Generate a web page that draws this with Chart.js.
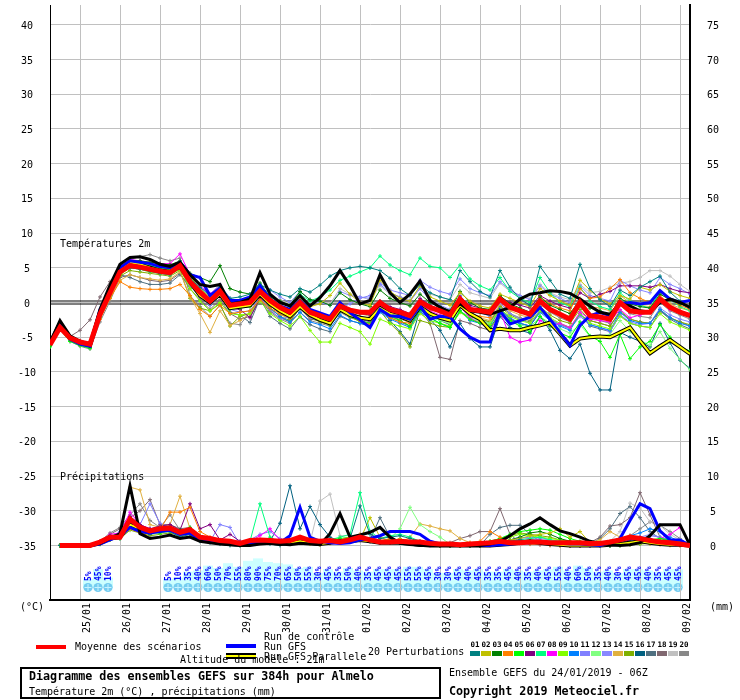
<!DOCTYPE html>
<html>
<head>
<meta charset="utf-8">
<script src="https://cdn.jsdelivr.net/npm/chart.js@4.4.0/dist/chart.umd.min.js"></script>
<style>
body { margin: 0; background: #fff; }
canvas { display: block; }
</style>
</head>
<body>
<canvas id="gefs" width="740" height="700"></canvas>
<script>
// axes
const dayLabels = ['25/01','26/01','27/01','28/01','29/01','30/01','31/01','01/02','02/02','03/02','04/02','05/02','06/02','07/02','08/02','09/02'];
const dayHours = [18,42,66,90,114,138,162,186,210,234,258,282,306,330,354,378];
const tempTicks = [-35,-30,-25,-20,-15,-10,-5,0,5,10,15,20,25,30,35,40];
const mmTicks = [0,5,10,15,20,25,30,35,40,45,50,55,60,65,70,75];

// probabilite de precipitations (fin de la periode de 6h)
const probHours = [24,30,36,
  72,78,84,90,96,102,108,114,120,126,132,138,144,150,156,162,168,174,180,186,192,198,
  204,210,216,222,228,234,240,246,252,258,264,270,276,282,288,294,300,306,312,318,324,330,336,342,348,354,360,366,372,378];
const probPct = [5,45,10,
  5,10,35,40,60,50,70,55,80,90,75,70,65,50,55,30,45,35,50,40,35,45,
  45,45,55,55,45,30,30,45,40,45,35,35,45,40,35,40,45,55,40,60,50,35,40,30,45,45,40,35,45,45];

// temperatures 2m, pas de 6h
const tMean = [-6.1,-3.6,-5.1,-5.7,-6.0,-1.7,1.4,4.4,5.3,5.1,
  4.8,4.5,4.3,5.3,3.0,1.5,0.2,1.6,-0.4,-0.2,
  0.0,1.6,0.3,-0.7,-1.4,0.0,-1.4,-1.9,-2.4,-0.5,
  -1.1,-1.4,-1.4,0.0,-1.0,-1.4,-1.9,0.1,-0.7,-1.2,
  -1.8,0.5,-1.0,-1.2,-1.4,0.5,-0.7,-1.2,-1.7,0.2,
  -1.0,-1.7,-2.4,0.0,-1.9,-2.1,-2.4,0.0,-1.2,-1.4,
  -1.4,0.5,-0.7,-1.4,-1.9];
const tGfs = [-5.8,-2.6,-4.8,-5.6,-6.0,-1.0,2.5,5.5,6.5,6.6,
  6.2,5.5,5.2,5.8,4.0,2.6,2.3,2.6,-0.2,0.0,
  0.5,4.3,1.2,0.0,-0.5,1.0,-0.5,0.7,2.4,4.6,
  2.4,-0.2,0.3,4.0,1.4,0.0,1.2,3.1,0.3,-0.7,
  -1.4,-0.2,-1.2,-1.4,-1.7,-1.2,-0.7,0.5,1.2,1.4,
  1.7,1.6,1.3,0.5,-0.5,-1.4,-1.7,-0.2,-0.5,-1.2,
  -1.4,0.0,0.5,0.0,-0.7];
const tCtrl = [-6.0,-3.2,-5.3,-6.0,-6.3,-1.0,2.0,5.0,6.0,5.8,
  5.6,5.2,5.0,5.8,4.0,3.6,1.0,2.0,0.3,0.3,
  0.8,2.4,0.5,-0.5,-1.0,0.3,-1.0,-1.5,-2.0,0.0,
  -1.5,-2.5,-3.6,-1.0,-1.9,-2.0,-2.4,-0.5,-2.4,-2.0,
  -2.1,-3.8,-5.0,-5.7,-5.7,-1.2,-3.1,-2.6,-2.1,-0.7,
  -2.4,-4.3,-6.2,-3.3,-1.9,-1.4,-1.9,-0.2,0.0,-0.2,
  0.0,1.7,0.5,0.0,0.3];
const tPar = [-5.9,-3.0,-5.0,-5.8,-6.2,-1.5,1.8,4.8,5.8,5.5,
  5.0,4.6,4.4,5.2,3.0,1.0,0.0,1.2,-0.8,-0.6,
  -0.4,1.2,-0.2,-1.2,-2.0,-0.6,-1.8,-2.5,-3.0,-1.0,
  -1.8,-2.2,-2.4,-0.8,-1.6,-2.0,-2.6,-0.6,-1.6,-2.2,
  -2.6,-0.4,-1.6,-2.4,-4.0,-3.8,-4.0,-4.0,-3.6,-3.3,
  -2.9,-4.5,-6.2,-5.2,-5.0,-4.9,-5.0,-4.3,-3.6,-5.5,
  -7.3,-6.3,-5.4,-6.4,-7.4];

const t01 = [-5.8,-3.4,-5.0,-5.6,-6.2,-1.8,1.2,4.2,5.0,4.8,4.5,4.2,4.0,5.0,3.4,2.2,1.0,2.4,0.6,0.8,1.2,2.6,1.8,1.2,0.8,2.0,1.5,2.5,3.8,4.6,5.0,5.2,5.0,4.6,3.5,2.0,1.0,2.6,1.4,0.8,0.4,4.6,3.0,1.6,0.8,4.6,2.2,0.5,-0.4,5.2,3.2,1.2,0.6,5.5,2.0,0.4,-0.6,1.8,1.0,2.2,3.0,3.8,1.5,0.2,-0.8];
const t02 = [-6.0,-3.8,-5.2,-5.9,-6.1,-2.0,1.0,4.2,5.4,5.3,5.0,4.8,4.6,5.5,3.8,2.0,0.8,2.0,0.2,0.0,0.4,2.0,0.4,-0.4,-1.0,0.6,-0.6,-0.2,1.0,2.8,1.2,0.0,-0.4,3.2,1.6,0.6,0.2,2.4,0.8,0.2,-0.4,1.4,0.2,-0.5,-0.8,1.2,0.6,0.0,-0.6,2.0,1.0,0.2,-0.4,3.2,1.8,0.5,-0.2,1.0,0.5,2.2,1.8,2.6,1.6,1.0,0.6];
const t03 = [-6.2,-3.3,-5.3,-6.0,-6.3,-1.2,2.0,5.0,6.0,6.0,5.8,5.6,5.4,6.0,4.2,3.6,3.0,5.3,2.0,1.5,1.2,2.8,0.8,0.2,-0.4,1.6,0.4,0.2,-0.4,1.4,0.4,-0.2,-0.6,1.8,0.6,0.0,-0.5,1.2,0.0,-0.6,-1.2,1.6,0.0,-0.8,-1.0,1.0,-0.2,-0.8,-1.4,0.8,-0.4,-1.0,-1.6,0.4,-0.8,-1.2,-1.8,0.6,-0.2,-0.6,-0.8,1.2,0.4,-0.2,-0.6];
const t04 = [-6.0,-3.8,-5.0,-5.5,-5.8,-2.4,0.6,3.0,2.2,2.0,1.9,1.9,2.0,2.6,1.0,-1.0,-2.0,-0.4,-1.6,-1.4,-1.2,0.4,-0.8,-1.6,-2.2,-0.6,-2.0,-2.4,-2.8,-0.6,-1.8,-2.6,-3.2,-1.0,-2.2,-2.8,-3.0,-0.6,-1.4,-2.0,-2.4,-0.2,-1.6,-2.0,-2.2,0.6,-0.6,-1.4,-1.8,0.8,-0.2,-0.8,-1.2,2.0,0.6,0.8,2.0,3.3,1.4,0.6,0.0,1.6,0.4,-0.4,-1.0];
const t05 = [-6.4,-3.9,-5.6,-6.2,-6.6,-2.2,1.0,4.6,5.6,5.6,5.2,5.0,4.8,5.2,2.8,1.2,0.0,1.4,-1.0,-0.8,-0.6,1.0,-0.4,-1.2,-2.0,-0.4,-1.8,-2.4,-3.2,-1.2,-2.0,-2.6,-3.0,-0.8,-2.0,-2.6,-3.4,-1.0,-2.2,-3.0,-3.6,-1.2,-2.4,-3.0,-3.6,-1.6,-2.6,-3.4,-4.2,-2.0,-3.4,-4.4,-5.0,-2.8,-4.8,-5.6,-7.9,-4.6,-8.1,-6.4,-5.6,-3.2,-5.0,-6.4,-7.0];
const t06 = [-6.1,-3.5,-5.2,-5.8,-6.1,-1.6,1.6,4.6,5.5,5.4,5.1,4.8,4.6,5.6,3.2,1.4,0.0,1.2,-0.8,-1.0,-2.2,0.6,-0.2,-1.2,-2.0,-0.2,-1.6,-2.0,-2.6,-0.8,-1.2,-1.6,-1.8,0.2,-0.6,-1.0,-1.6,0.6,-0.4,-1.0,-1.6,0.8,-0.4,-0.8,-1.2,0.8,0.0,-0.4,-0.8,1.0,0.2,-0.4,-0.8,1.4,0.6,1.2,1.6,2.4,2.4,2.4,2.2,2.6,2.0,1.6,1.4];
const t07 = [-6.3,-3.6,-5.4,-6.0,-6.2,-1.4,1.8,4.8,5.8,5.6,5.3,5.0,4.8,5.8,3.6,2.0,0.8,2.2,0.0,0.2,0.4,2.2,0.8,0.0,-0.6,1.2,0.2,0.8,1.8,3.2,3.8,4.4,5.0,6.7,5.4,4.6,4.0,6.4,5.2,5.0,3.6,5.4,3.4,2.4,1.8,3.6,1.6,0.6,0.0,3.6,1.4,0.0,-0.6,2.2,0.2,-0.6,-1.0,1.4,0.2,-0.4,-0.8,1.6,0.4,-0.6,-1.2];
const t08 = [-6.0,-3.4,-5.0,-5.6,-5.9,-1.4,2.2,5.2,6.2,6.0,5.8,5.6,5.6,7.0,4.0,2.4,1.2,2.4,0.0,0.2,0.4,2.0,0.0,-1.0,-1.8,0.4,-1.2,-1.8,-2.4,-0.6,-1.6,-2.2,-2.6,-0.4,-1.6,-2.0,-2.4,-0.2,-1.2,-1.8,-2.4,-0.6,-2.2,-3.0,-3.8,-1.2,-5.0,-5.7,-5.4,-2.6,-3.4,-3.0,-3.6,-1.4,-2.4,-2.6,-2.8,-1.0,-2.2,-1.8,-1.4,0.4,-1.0,-1.2,-1.6];
const t09 = [-6.2,-3.8,-5.4,-6.1,-6.4,-2.2,0.8,4.0,5.0,4.8,4.4,4.2,4.0,4.8,2.0,0.2,-1.2,0.0,-1.6,-1.8,-1.6,0.2,-1.6,-2.6,-3.4,-2.0,-4.0,-5.7,-5.7,-3.0,-3.6,-4.2,-6.0,-2.4,-3.0,-3.4,-3.8,-1.6,-2.6,-3.0,-3.4,-1.4,-2.4,-2.8,-3.2,-1.0,-2.0,-2.6,-3.0,-1.2,-2.2,-3.0,-3.6,-1.6,-3.0,-3.4,-3.8,-2.0,-3.0,-3.4,-3.6,-1.6,-2.8,-3.4,-4.0];
const t10 = [-6.0,-3.5,-5.1,-5.7,-6.0,-1.6,1.6,4.6,5.5,5.3,5.0,4.7,4.5,5.5,3.4,1.8,0.5,1.8,-0.2,0.0,0.2,1.8,-0.8,-2.0,-2.8,-1.4,-2.8,-3.2,-3.8,-1.8,-2.6,-3.0,-3.4,-1.4,-2.4,-3.0,-3.6,-1.4,-2.2,-3.0,-3.6,-1.2,-2.6,-3.0,-3.4,-1.0,-2.2,-3.0,-3.4,-1.4,-2.6,-3.4,-4.0,-1.6,-3.2,-3.6,-4.0,-1.4,-2.6,-3.0,-3.0,-1.0,-2.2,-3.0,-3.4];
const t11 = [-6.2,-3.7,-5.3,-5.9,-6.2,-2.0,1.2,4.2,5.0,4.8,4.4,4.2,4.0,5.0,2.6,1.0,-0.4,1.0,-1.0,-1.4,-1.2,0.8,-1.0,-2.4,-2.0,-0.8,-2.2,-2.6,-3.0,-0.8,-0.2,0.6,1.0,2.6,1.4,0.8,0.2,2.0,0.4,-0.4,-1.0,1.0,-0.6,-1.4,-2.0,0.0,-1.6,-2.4,-3.0,-1.0,-2.4,-3.2,-3.8,-2.0,-3.2,-3.6,-4.2,-1.8,-2.8,-3.2,-3.0,-0.8,-1.8,-2.4,-2.8];
const t12 = [-6.3,-3.8,-5.5,-6.1,-6.5,-2.0,1.2,4.4,5.4,5.2,4.9,4.6,4.4,5.2,2.8,1.2,-0.2,1.2,-0.8,-0.6,-0.4,1.2,-0.2,-1.2,-1.8,-0.2,-1.6,-2.2,-2.8,-1.0,-1.6,-2.0,-2.4,-0.4,-1.6,-2.2,-2.8,-0.8,-2.0,-2.6,-3.0,-1.2,-2.2,-2.6,-3.0,-1.0,-2.6,-3.2,-3.6,-2.0,-3.0,-3.8,-4.4,-3.2,-4.9,-4.8,-4.6,-2.6,-4.2,-5.4,-6.2,-4.2,-6.6,-8.2,-9.7];
const t13 = [-5.9,-3.4,-5.0,-5.5,-5.8,-1.4,1.8,4.8,5.6,5.4,5.1,4.8,4.6,5.4,3.6,2.2,1.2,2.6,0.6,0.2,0.0,1.4,1.8,0.8,0.0,1.6,0.4,0.0,-0.4,1.6,1.0,0.8,0.6,2.8,1.8,1.4,1.0,3.2,2.2,1.6,1.2,3.4,2.0,1.4,1.0,3.0,1.8,1.0,0.4,2.4,1.2,0.6,0.0,2.4,1.0,0.6,0.2,3.2,2.4,1.8,1.4,3.6,2.6,2.0,1.2];
const t14 = [-6.1,-3.7,-5.2,-5.8,-6.0,-2.4,0.6,3.2,4.0,3.6,3.4,3.2,3.4,4.4,0.8,-1.6,-4.3,-1.2,-3.3,-2.6,-1.6,0.4,-1.0,-1.8,-2.2,-0.6,-1.8,-2.2,-2.6,-0.4,-1.2,-1.6,-2.0,0.2,-1.4,-2.2,-3.0,-0.6,-1.8,-2.4,-2.8,-0.4,-1.6,-2.2,-2.6,-0.2,-1.2,-1.8,-2.2,0.4,-1.0,-1.6,-2.0,0.6,-0.6,-0.8,-1.2,1.0,0.0,-0.4,-0.6,1.0,-0.2,-0.8,-1.2];
const t15 = [-6.0,-3.5,-5.2,-5.7,-6.0,-1.8,1.0,3.8,4.6,4.4,4.2,4.0,3.8,4.6,0.6,-0.8,-1.2,-0.2,-3.4,-2.0,-1.6,0.8,-0.8,-2.0,-2.6,-0.8,-2.2,-2.8,-3.2,-1.0,-2.0,-2.8,-3.4,-1.2,-3.0,-4.4,-6.4,-2.6,-3.0,-3.4,-3.6,-1.4,-2.0,-2.4,-2.8,-0.6,-1.8,-2.4,-2.8,-0.6,-1.8,-2.6,-3.0,-1.0,-2.6,-3.0,-3.4,-1.2,-2.4,-2.8,-3.0,-1.0,-2.2,-2.8,-3.2];
const t16 = [-6.2,-3.6,-5.3,-5.9,-6.2,-1.9,1.2,4.2,5.2,5.0,4.6,4.4,4.2,5.0,2.8,1.4,0.2,1.4,-0.6,-0.4,-0.2,1.4,-0.4,-1.6,-2.4,-0.4,-1.8,-2.0,-2.4,-0.4,-1.4,-2.0,-2.6,-0.6,-2.6,-4.2,-6.0,-1.0,-2.4,-4.0,-6.4,-3.0,-5.2,-6.4,-6.4,-2.0,-3.6,-4.0,-4.4,-2.0,-4.0,-6.9,-8.1,-6.0,-10.2,-12.6,-12.6,-4.3,-5.0,-5.6,-6.4,-3.0,-5.8,-8.3,-9.5];
const t17 = [-6.1,-3.5,-5.1,-5.8,-6.1,-1.7,1.4,4.0,3.6,3.0,2.6,2.6,2.8,4.0,2.4,0.8,-0.4,1.0,-1.4,-1.8,-2.9,0.6,-2.0,-3.0,-3.8,-2.0,-3.2,-3.8,-4.2,-2.0,-2.6,-3.0,-3.4,-1.2,-2.2,-2.8,-3.4,-1.0,-2.0,-2.6,-3.2,-0.6,-2.0,-2.6,-3.0,-0.8,-2.4,-3.0,-3.4,-1.2,-2.4,-3.2,-3.8,-1.6,-3.4,-3.8,-4.2,-1.8,-3.0,-3.4,-3.6,-1.2,-2.4,-3.2,-3.8];
const t18 = [-6.0,-3.4,-4.9,-4.0,-2.5,0.8,3.0,3.6,4.0,3.6,3.2,3.0,3.2,4.2,2.0,0.4,-1.0,0.4,-1.6,-2.4,-2.0,0.4,-1.2,-2.2,-2.8,-0.8,-2.4,-2.6,-3.0,-1.0,-1.8,-2.4,-2.8,-0.6,-1.8,-2.6,-3.4,-1.2,-3.0,-7.9,-8.2,-2.6,-3.0,-3.6,-4.0,-1.4,-2.4,-3.0,-3.4,-1.2,-2.4,-3.2,-3.6,-1.8,-2.6,-3.0,-3.4,-1.4,-2.4,-2.8,-3.0,-1.2,-2.2,-2.8,-3.4];
const t19 = [-6.1,-3.6,-5.2,-5.8,-6.0,-1.6,1.6,4.6,5.5,5.3,5.0,4.7,4.5,5.4,3.2,1.6,0.4,1.6,-0.2,0.0,0.0,1.4,1.0,0.4,-0.2,1.6,0.4,0.2,-0.2,2.0,1.2,0.8,0.4,2.4,1.2,0.8,0.4,2.2,1.2,0.8,0.4,2.6,1.4,1.0,0.6,2.8,1.6,1.0,0.6,2.6,1.4,0.8,0.4,2.6,1.4,1.6,2.2,2.8,3.0,3.6,4.6,4.6,3.8,2.6,1.6];
const t20 = [-6.3,-3.9,-5.6,-6.3,-6.7,-2.8,0.2,3.6,6.2,6.6,6.9,6.4,6.0,6.4,1.0,-0.6,-2.0,-0.4,-3.0,-3.2,-1.4,0.6,-1.4,-2.4,-3.0,-1.4,-2.6,-3.0,-3.4,-1.4,-2.2,-2.6,-3.0,-1.2,-2.0,-2.4,-2.8,-0.8,-1.8,-2.4,-2.8,-0.6,-1.8,-2.4,-2.8,-0.4,-1.6,-2.2,-2.6,-0.2,-1.4,-2.2,-2.8,-0.6,-2.2,-2.6,-3.0,-0.4,-1.6,-2.0,-2.2,0.0,-1.2,-1.8,-2.4];

// precipitations (mm / 6h)
const rMean = [null,0,0,0,0,0.5,1.2,1.2,3.8,2.6,2.1,2.4,2.5,1.9,2.3,1.2,1.0,0.7,0.6,0.3,0.7,0.8,0.7,0.6,0.7,1.2,0.7,0.6,0.7,0.5,0.8,1.2,0.8,0.5,0.5,0.6,0.5,0.5,0.3,0.2,0.2,0.1,0.2,0.3,0.4,0.6,0.4,0.4,0.5,0.5,0.4,0.4,0.4,0.4,0.3,0.3,0.5,0.8,1.2,1.0,0.7,0.5,0.4,0.2,0.0];
const rGfs = [null,0,0,0,0,0.3,1.0,1.7,8.6,1.7,1.0,1.2,1.5,1.0,1.2,0.6,0.4,0.2,0.1,0,0,0.2,0.3,0.2,0.1,0.3,0.2,0.1,1.7,4.6,1.2,1.5,1.9,2.6,1.2,0.3,0.2,0,0,0,0,0,0,0,0.2,0.6,1.4,2.4,3.1,4.0,3.0,2.1,1.7,1.2,0.6,0.3,0.1,0,0.1,0.4,1.4,3.0,3.0,3.0,0];
const rCtrl = [null,0,0,0,0,0.2,0.8,1.4,2.6,2.0,1.8,2.0,2.2,1.6,1.8,0.8,0.6,0.4,0.2,0.1,0.2,0.4,0.6,0.4,1.4,5.5,1.2,0.6,0.4,0.3,0.4,0.8,1.0,1.4,2.0,2.0,2.0,1.6,0.6,0.2,0.1,0,0,0,0,0.1,0.2,0.3,0.4,0.6,0.4,0.3,0.2,0.2,0.1,0,0.3,1.0,3.6,6.0,5.3,2.1,0.8,0.8,0];
const rPar = [null,0,0,0,0,0.3,1.0,1.2,3.0,2.4,2.0,2.2,2.4,1.8,2.0,1.0,0.6,0.4,0.2,0.1,0.2,0.4,0.4,0.2,0.4,0.6,0.4,0.2,0.4,0.6,0.6,0.8,0.6,0.4,0.4,0.4,0.2,0.1,0,0,0,0,0,0,0,0.1,0.2,0.4,0.6,0.4,0.2,0.1,0,0,0,0,0.1,0.2,0.4,0.6,0.4,0.2,0.1,0.1,0];

const r01 = [null,0,0,0,0,0.3,1.2,1.0,2.8,2.0,1.6,2.4,2.0,1.2,1.6,0.6,0.4,0.2,0,0,0.4,0.6,0.2,0,0.2,0.6,0.4,0.2,0.6,0.8,1.0,5.7,1.6,1.0,1.2,1.4,1.0,0.6,0.4,0.2,0.2,0,0,0.1,0.2,0.4,0.6,0.8,0.4,0.3,0.2,0.1,0.2,0.3,0.2,0.1,0,0,0.4,0.8,0.6,0.4,0.2,0.1,0];
const r02 = [null,0,0,0,0,0.2,1.0,1.4,3.2,2.2,2.0,2.6,2.4,1.6,2.0,1.0,0.6,0.4,0.2,0.1,0.4,0.8,0.4,0.2,0.3,0.6,0.2,0.1,0.3,0.4,0.6,0.8,4.0,1.2,0.6,1.0,0.4,0.2,0.2,0.1,0,0,0,0,0.2,0.4,0.8,1.0,1.4,1.6,1.8,2.4,1.2,2.0,0.4,0.2,0,0.1,0.2,0.3,0.4,0.3,0.2,0.2,0];
const r03 = [null,0,0,0,0,0.4,1.4,1.6,3.4,2.8,2.2,2.0,2.6,2.2,2.4,1.2,0.8,0.4,0.2,0,0.2,0.4,0.6,0.4,0.6,1.0,0.6,0.4,0.6,0.4,0.8,1.0,0.6,0.4,0.4,0.6,0.4,0.2,0.1,0,0,0,0,0,0.2,0.4,0.8,1.2,1.8,2.0,1.6,1.0,0.6,0.4,0.2,0.1,0,0.2,0.4,0.8,0.6,0.4,0.3,0.2,0];
const r04 = [null,0,0,0,0,0.3,0.8,1.2,2.4,1.8,1.6,2.2,4.8,4.8,5.5,2.0,1.2,0.6,0.4,0.2,0.4,0.6,0.8,0.4,0.6,1.0,0.8,0.4,0.6,0.8,1.2,1.6,0.8,0.6,1.0,0.6,0.4,0.2,0.2,0,0,0,0.4,0.6,2.0,1.2,0.6,0.4,0.2,0.2,0.1,0,0,0,0.2,0.3,0.6,1.0,1.4,0.8,0.4,0.3,0.2,0.1,0];
const r05 = [null,0,0,0,0,0.2,1.0,1.2,2.6,2.4,2.0,1.8,2.2,1.8,2.6,1.4,0.8,0.6,0.4,0.2,0.2,0.6,1.0,0.6,0.8,1.2,0.6,0.4,0.8,1.0,1.2,1.4,1.0,0.6,0.8,0.6,0.4,0.2,0.1,0,0,0,0,0.2,0.6,1.0,1.6,2.0,2.2,2.4,2.2,1.6,1.0,0.6,0.4,0.2,0.1,0.2,0.4,0.6,0.8,1.0,0.8,0.6,0.2];
const r06 = [null,0,0,0,0,0.4,1.2,1.6,4.2,3.0,2.4,2.8,3.0,2.2,6.0,2.4,3.0,0.8,1.6,0.6,0.4,0.6,0.4,0.2,0.4,0.8,0.4,0.2,0.4,0.6,0.6,0.8,0.6,0.4,0.4,0.6,0.4,0.2,0.1,0,0,0,0,0,0.2,0.4,0.6,0.8,0.6,0.4,0.2,0.1,0,0,0,0.1,0.2,0.4,0.8,1.2,1.0,0.6,0.4,0.2,0];
const r07 = [null,0,0,0,0,0.2,0.8,1.4,2.8,2.2,1.8,2.0,2.2,1.6,2.0,1.0,0.6,0.4,0.2,0.2,0.6,6.0,1.2,0.4,0.6,1.0,0.6,0.4,0.8,1.2,1.6,7.6,2.0,1.0,1.4,1.6,1.2,0.6,0.4,0.2,0.1,0,0,0,0.2,0.4,0.6,0.8,1.0,1.2,0.8,0.6,0.4,0.2,0.1,0,0,0.1,0.2,0.3,0.4,0.3,0.2,0.1,0];
const r08 = [null,0,0,0,0,0.5,1.6,1.8,4.8,3.0,2.4,2.6,2.4,2.0,2.2,1.0,0.6,0.4,0.2,0.1,0.6,1.4,2.4,0.8,0.4,0.6,0.4,0.2,0.4,0.6,0.8,1.0,0.6,0.4,0.6,0.4,0.2,0.1,0,0,0,0,0,0,0.1,0.2,0.4,0.6,0.4,0.2,0.2,0.1,0,0,0,0,0,0.1,0.2,0.4,0.6,1.0,1.6,2.6,0.2];
const r09 = [null,0,0,0,0,0.2,0.8,1.2,2.6,2.2,1.8,2.0,2.2,1.8,2.0,1.0,0.8,0.6,0.4,0.2,0.2,0.4,0.6,0.4,0.4,0.8,0.6,0.4,0.6,0.8,1.0,1.2,0.8,0.6,0.6,0.4,0.3,0.2,0.1,0,0,0,0,0.1,0.4,0.8,1.2,1.6,1.4,1.2,1.0,0.8,0.6,0.4,0.2,0.1,0,0,0.2,0.4,0.6,0.8,0.6,0.4,0];
const r10 = [null,0,0,0,0,0.3,1.0,1.4,3.0,2.4,2.0,2.2,2.4,1.8,2.0,1.0,0.6,0.4,0.2,0.1,0.4,0.6,0.4,0.2,0.4,0.8,0.6,0.4,0.6,0.8,1.0,1.2,0.8,0.6,0.6,0.4,0.3,0.2,0.1,0,0,0,0,0,0.1,0.2,0.4,0.6,0.4,0.3,0.2,0.1,0,0,0.1,0.2,0.4,0.8,1.4,1.8,2.4,2.0,1.2,0.6,0];
const r11 = [null,0,0,0,0,0.4,1.2,2.0,3.4,3.0,6.0,3.2,2.6,2.0,2.2,1.0,0.6,3.0,2.6,0.1,0.8,1.6,2.0,1.0,0.6,0.8,0.4,0.2,0.4,0.6,0.8,1.0,0.8,0.6,0.6,0.4,0.3,0.2,0.1,0,0,0,0,0,0.2,0.4,0.8,1.2,1.0,0.8,0.6,0.4,0.2,0.1,0,0,0,0.2,0.6,1.0,1.4,1.2,0.8,0.4,0];
const r12 = [null,0,0,0,0,0.2,0.8,1.0,2.4,2.0,1.6,1.8,2.0,1.6,1.8,0.8,0.6,0.4,0.2,0.1,0.2,0.4,0.6,0.4,0.4,0.6,0.4,0.2,0.4,0.6,0.8,1.0,0.8,0.6,1.0,2.4,5.5,3.0,2.0,1.2,0.2,0,0,0,0.1,0.2,0.4,0.6,0.4,0.3,0.2,0.1,0,0,0,0,0,0.1,0.2,0.3,0.4,0.3,0.2,0.1,0];
const r13 = [null,0,0,0,0,0.3,1.0,1.2,2.8,2.4,2.0,2.2,2.4,1.8,2.2,1.0,0.6,0.4,0.2,0.1,0.4,0.6,0.4,0.2,0.4,0.8,0.6,0.4,0.6,0.8,1.0,1.2,0.8,0.6,0.6,0.4,0.3,0.2,0.1,0,0,0,0,0,0.2,0.4,0.8,1.0,1.2,1.0,0.8,0.6,0.4,0.2,0.2,0.1,0.2,0.4,0.8,1.2,1.6,1.2,0.8,0.4,0];
const r14 = [null,0,0,0,0,0.3,1.0,1.6,8.4,8.0,3.0,2.6,3.0,7.1,2.4,1.2,0.8,0.6,0.4,0.2,0.4,0.6,0.4,0.2,0.4,0.6,0.4,0.2,0.4,0.6,0.8,1.0,0.8,0.6,0.6,0.4,1.2,3.1,2.8,2.4,2.1,1.0,0.4,0,0,0.2,0.4,0.6,0.4,0.2,0.1,0,0,0,0.4,0.8,2.0,1.2,0.6,0.4,0.2,0.1,0,0,0];
const r15 = [null,0,0,0,0,0.2,0.8,1.0,2.2,1.8,1.4,1.6,1.8,1.4,1.6,0.8,0.6,0.4,0.2,0.1,0.2,0.4,0.6,0.4,0.4,0.6,0.4,0.2,0.4,0.6,0.8,1.0,0.8,0.6,0.6,0.4,0.3,0.2,0.1,0,0,0,0,0.2,0.6,1.0,1.4,1.8,1.6,1.4,1.2,0.8,0.6,0.4,0.2,0.1,0,0,0.1,0.2,0.3,0.2,0.1,0,0];
const r16 = [null,0,0,0,0,0.3,1.0,1.4,3.0,2.6,2.0,2.2,2.4,1.8,2.0,1.0,0.6,0.4,0.2,0.1,0.2,0.4,0.6,3.2,8.6,2.4,5.6,3.0,1.2,0.6,0.8,1.0,0.8,0.6,0.6,0.4,0.3,0.2,0.1,0,0,0,0,0,0.1,0.2,0.4,0.6,0.4,0.3,0.2,0.1,0,0,0,0,0,0.1,0.2,0.3,0.4,0.3,0.2,0.1,0];
const r17 = [null,0,0,0,0,0.4,1.2,1.6,3.6,2.8,2.4,2.2,2.8,2.0,2.4,1.2,0.8,0.4,0.2,0.1,0.2,0.4,0.6,0.4,0.4,0.6,0.4,0.2,0.4,0.6,0.8,1.0,0.8,4.0,1.2,0.6,0.4,0.2,0.1,0,0,0,0,0,1.6,2.6,2.9,2.9,1.6,0.6,0.2,0.1,0,0,0.2,1.0,2.4,4.6,5.6,4.0,2.0,1.0,0.6,0.4,0];
const r18 = [null,0,0,0,0,0.5,1.6,2.4,4.0,5.0,6.6,3.0,3.0,2.4,2.6,1.2,0.8,0.4,0.2,0.1,0.2,0.4,0.6,0.4,0.4,0.6,0.4,0.2,0.4,0.6,0.8,1.0,0.8,0.6,0.6,0.4,0.3,0.2,0.1,0,0.4,1.0,1.4,2.0,2.0,5.3,1.6,0.4,0.2,0.1,0,0,0,0,0.4,1.2,2.8,3.0,4.0,7.6,4.4,1.2,0.6,0.4,0];
const r19 = [null,0,0,0,0,0.2,0.8,1.0,2.4,2.0,1.6,1.8,2.0,1.6,1.8,0.8,0.6,0.4,0.2,0.1,0.2,0.4,0.6,0.4,0.4,0.6,0.4,6.4,7.4,1.4,1.4,1.0,0.8,0.6,0.6,0.4,0.3,0.2,0.1,0,0,0,0,0,0.2,0.4,0.6,0.4,0.3,0.2,0.1,0,0,0,0,0.2,0.6,2.0,6.1,5.4,3.4,2.9,1.6,0.8,0];
const r20 = [null,0,0,0,0,0.6,1.8,2.6,4.4,6.0,3.6,2.6,4.4,2.2,2.4,1.2,0.8,0.4,0.2,0.1,0.2,0.4,0.6,0.4,0.4,0.6,0.4,0.2,0.4,0.6,0.8,1.0,0.8,0.6,0.6,0.4,0.3,0.2,0.1,0,0,0,0,0,0.2,0.4,0.6,0.8,0.6,0.4,0.2,0.1,0,0,0,0.1,0.2,0.6,1.4,2.4,3.4,2.9,2.0,1.0,0];

const memberColors = ['#008080','#c0c000','#008000','#ff8000','#00ff00','#800080','#00ff80','#ff00ff','#80ff00','#0080ff',
  '#8080ff','#80ff80','#8888ff','#e0b040','#80b000','#006080','#507080','#806870','#c0c0c0','#888888'];
const tMembers = [t01,t02,t03,t04,t05,t06,t07,t08,t09,t10,t11,t12,t13,t14,t15,t16,t17,t18,t19,t20];
const rMembers = [r01,r02,r03,r04,r05,r06,r07,r08,r09,r10,r11,r12,r13,r14,r15,r16,r17,r18,r19,r20];

const FONT = '"DejaVu Sans Mono", "Liberation Mono", monospace';

function serie(values, axis, color, width, order, marks) {
  return {
    data: values.map((v, i) => ({ x: i * 6, y: v })),
    yAxisID: axis,
    borderColor: color,
    backgroundColor: color,
    borderWidth: width,
    pointRadius: marks ? 2 : 0,
    pointStyle: 'cross',
    pointBorderColor: color,
    pointBorderWidth: 1,
    fill: false,
    spanGaps: false,
    order: order
  };
}

const datasets = [];
['y', 'y2'].forEach(axis => {
  const mem = axis === 'y' ? tMembers : rMembers;
  mem.forEach((m, k) => datasets.push(serie(m, axis, memberColors[k], 1, 10, true)));
  datasets.push(serie(axis === 'y' ? tPar : rPar, axis, '#000000', 4, 6, false));
  datasets.push(serie(axis === 'y' ? tPar : rPar, axis, '#ffff00', 2, 5, false));
  datasets.push(serie(axis === 'y' ? tCtrl : rCtrl, axis, '#0000ff', 3, 3, false));
  datasets.push(serie(axis === 'y' ? tGfs : rGfs, axis, '#000000', 3, 2, false));
  datasets.push(serie(axis === 'y' ? tMean : rMean, axis, '#ff0000', 5, 1, false));
});

// Bande des probabilites, textes, legende
const extras = {
  id: 'extras',
  beforeDraw(chart) {
    const { ctx, scales: { x } } = chart;
    ctx.save();
    ctx.fillStyle = '#ffffff';
    ctx.fillRect(0, 0, chart.width, chart.height);
    probHours.forEach((h, k) => {
      const px = x.getPixelForValue(h) - 2;
      const top = 580 - 0.24 * probPct[k];
      ctx.fillStyle = '#ccffff';
      ctx.fillRect(px - 5, top, 10, 588 - top);
    });
    probHours.forEach(h => {
      const px = x.getPixelForValue(h) - 2;
      ctx.beginPath();
      ctx.arc(px, 587.5, 4.6, 0, 2 * Math.PI);
      ctx.fillStyle = '#74ccf0';
      ctx.fill();
      ctx.fillStyle = '#c8f2ff';
      ctx.fillRect(px - 0.5, 584, 1, 7);
      ctx.fillRect(px - 3.5, 587, 7, 1);
    });
    ctx.restore();
  },
  beforeDatasetsDraw(chart) {
    const { ctx, chartArea, scales: { y } } = chart;
    const p0 = y.getPixelForValue(0);
    ctx.save();
    ctx.strokeStyle = '#000';
    ctx.lineWidth = 1;
    [p0 - 1.5, p0 + 1.5].forEach(py => {
      ctx.beginPath();
      ctx.moveTo(chartArea.left, py);
      ctx.lineTo(chartArea.right, py);
      ctx.stroke();
    });
    ctx.restore();
  },
  afterDraw(chart) {
    const { ctx, scales: { x, y, y2 } } = chart;
    ctx.save();
    // probabilites
    ctx.fillStyle = '#0000ff';
    ctx.font = 'bold 8px ' + FONT;
    ctx.textAlign = 'left';
    ctx.textBaseline = 'middle';
    probHours.forEach((h, k) => {
      const px = x.getPixelForValue(h) - 2;
      ctx.save();
      ctx.translate(px, 581);
      ctx.rotate(-Math.PI / 2);
      ctx.fillText(probPct[k] + '%', 0, 0.5);
      ctx.restore();
    });

    ctx.fillStyle = '#000';
    ctx.font = '10px ' + FONT;
    ctx.textAlign = 'center';
    tempTicks.forEach(v => ctx.fillText(String(v), 27, y.getPixelForValue(v) + 1.5));
    mmTicks.forEach(v => ctx.fillText(String(v), 713, y2.getPixelForValue(v) + 1.5));

    ctx.textAlign = 'right';
    dayHours.forEach((h, k) => {
      ctx.save();
      ctx.translate(x.getPixelForValue(h) + 7, 603);
      ctx.rotate(-Math.PI / 2);
      ctx.fillText(dayLabels[k], 0, 0);
      ctx.restore();
    });

    ctx.textAlign = 'left';
    ctx.fillText('Températures 2m', 60, 244);
    ctx.fillText('Précipitations', 60, 477);
    ctx.fillText('(°C)', 20, 607);
    ctx.fillText('(mm)', 710, 607);

    // legende
    ctx.fillStyle = '#ff0000';
    ctx.fillRect(36, 645, 30, 4);
    ctx.fillStyle = '#0000ff';
    ctx.fillRect(226, 644, 30, 4);
    ctx.fillStyle = '#000000';
    ctx.fillRect(226, 653, 30, 6);
    ctx.fillStyle = '#ffff00';
    ctx.fillRect(226, 655, 30, 2);
    ctx.fillStyle = '#000';
    ctx.fillText('Moyenne des scénarios', 75, 647);
    ctx.fillText('Run de contrôle', 264, 637);
    ctx.fillText('Run GFS', 264, 647);
    ctx.fillText('Run GFS Parallele', 264, 657);
    ctx.fillText('Altitude du modèle : 21m', 180, 660);
    ctx.fillText('20 Perturbations', 368, 652);

    ctx.font = 'bold 7.5px ' + FONT;
    ctx.textAlign = 'center';
    memberColors.forEach((c, k) => {
      const sx = 470 + 11 * k;
      ctx.fillStyle = '#000';
      ctx.fillText(String(k + 1).padStart(2, '0'), sx + 5, 645);
      ctx.fillStyle = c;
      ctx.fillRect(sx, 651, 10, 5);
    });

    // cartouche
    ctx.strokeStyle = '#000';
    ctx.lineWidth = 2;
    ctx.strokeRect(21, 668, 419, 30);
    ctx.fillStyle = '#000';
    ctx.textAlign = 'left';
    ctx.font = 'bold 11.7px ' + FONT;
    ctx.fillText('Diagramme des ensembles GEFS sur 384h pour Almelo', 29, 677);
    ctx.fillText('Copyright 2019 Meteociel.fr', 449, 692);
    ctx.font = '10px ' + FONT;
    ctx.fillText('Température 2m (°C) , précipitations (mm)', 29, 692);
    ctx.fillText('Ensemble GEFS du 24/01/2019 - 06Z', 449, 673);
    ctx.restore();
  }
};

new Chart(document.getElementById('gefs').getContext('2d'), {
  type: 'line',
  data: { datasets: datasets },
  options: {
    responsive: false,
    animation: false,
    devicePixelRatio: 1,
    layout: { padding: 0 },
    elements: { line: { tension: 0 } },
    plugins: { legend: { display: false }, tooltip: { enabled: false } },
    scales: {
      x: {
        type: 'linear', min: 0, max: 384,
        ticks: { display: false },
        grid: { color: '#c0c0c0', drawTicks: false },
        border: { color: '#000', width: 2 },
        afterBuildTicks: s => { s.ticks = dayHours.map(v => ({ value: v })); },
        afterFit: s => { s.height = 100; }
      },
      y: {
        position: 'left', min: -300 / 7, max: 300 / 7,
        ticks: { display: false },
        grid: { color: '#c0c0c0', drawTicks: false },
        border: { color: '#000', width: 1 },
        afterBuildTicks: s => { s.ticks = tempTicks.map(v => ({ value: v })); },
        afterFit: s => { s.width = 50; }
      },
      y2: {
        position: 'right', min: 35 - 300 / 7, max: 35 + 300 / 7,
        ticks: { display: false },
        grid: { display: false, drawTicks: false },
        border: { color: '#000', width: 2 },
        afterFit: s => { s.width = 50; }
      }
    }
  },
  plugins: [extras]
});
</script>
</body>
</html>
